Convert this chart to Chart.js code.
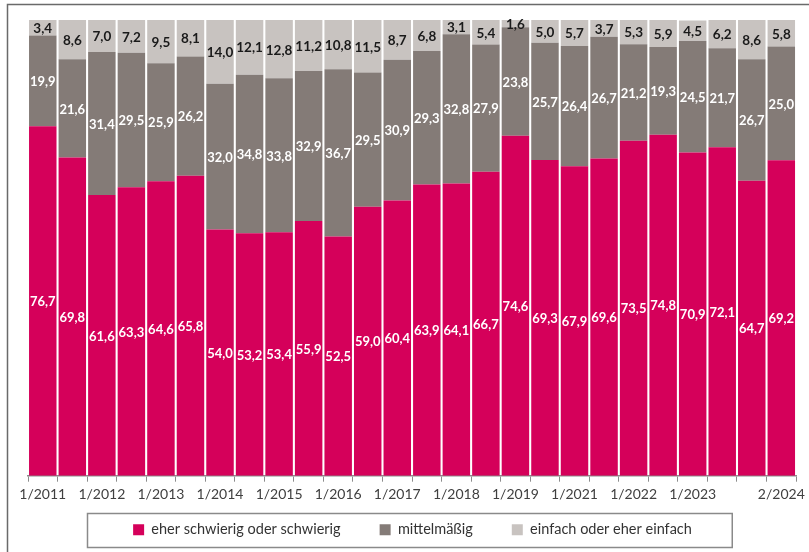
<!DOCTYPE html>
<html>
<head>
<meta charset="utf-8">
<script src="https://cdn.jsdelivr.net/npm/chart.js@4"></script>
<style>
  html, body { margin: 0; padding: 0; background: #fff; }
  #wrap { position: relative; width: 809px; height: 552px; }
</style>
</head>
<body>
<div id="wrap"><canvas id="balken"></canvas></div>
<script>
// Befragungszeitpunkte (Halbjahr/Jahr)
var zeitpunkte = ["1/2011", "2/2011", "1/2012", "2/2012", "1/2013", "2/2013",
    "1/2014", "2/2014", "1/2015", "2/2015", "1/2016", "2/2016",
    "1/2017", "2/2017", "1/2018", "2/2018", "1/2019", "2/2019",
    "1/2021", "2/2021", "1/2022", "2/2022", "1/2023", "2/2023",
    "1/2024", "2/2024"];

// Beschriftete Zeitpunkte auf der x-Achse
var achsenBeschriftung = ["1/2011", "1/2012", "1/2013", "1/2014", "1/2015", "1/2016",
    "1/2017", "1/2018", "1/2019", "1/2021", "1/2022", "1/2023", "2/2024"];

var schwierig = [76.7, 69.8, 61.6, 63.3, 64.6, 65.8, 54.0, 53.2, 53.4, 55.9, 52.5, 59.0, 60.4,
    63.9, 64.1, 66.7, 74.6, 69.3, 67.9, 69.6, 73.5, 74.8, 70.9, 72.1, 64.7, 69.2];
var mittel = [19.9, 21.6, 31.4, 29.5, 25.9, 26.2, 32.0, 34.8, 33.8, 32.9, 36.7, 29.5, 30.9,
    29.3, 32.8, 27.9, 23.8, 25.7, 26.4, 26.7, 21.2, 19.3, 24.5, 21.7, 26.7, 25.0];
var einfach = [3.4, 8.6, 7.0, 7.2, 9.5, 8.1, 14.0, 12.1, 12.8, 11.2, 10.8, 11.5, 8.7,
    6.8, 3.1, 5.4, 1.6, 5.0, 5.7, 3.7, 5.3, 5.9, 4.5, 6.2, 8.6, 5.8];

var serien = ["eher schwierig oder schwierig", "mittelmäßig", "einfach oder eher einfach"];
var farben = ["#D5005A", "#847B77", "#C8C3C0"];
var schriftFarben = ["#ffffff", "#ffffff", "#1a1a1a"];

var schrift = "Lato, 'Open Sans', sans-serif";

// Rahmen um die ganze Grafik
var rahmen = {
    id: "rahmen",
    afterDraw: function (chart) {
        var ctx = chart.ctx;
        ctx.save();
        ctx.strokeStyle = "#6a6a6a";
        ctx.lineWidth = 1.5;
        ctx.strokeRect(7.5, 4.5, 900, 700);
        ctx.restore();
    }
};

// Werte in die Balkensegmente schreiben
var werte = {
    id: "werte",
    afterDatasetsDraw: function (chart) {
        var ctx = chart.ctx;
        ctx.save();
        ctx.textAlign = "center";
        ctx.textBaseline = "middle";
        chart.data.datasets.forEach(function (ds, i) {
            var meta = chart.getDatasetMeta(i);
            ctx.fillStyle = schriftFarben[i];
            ctx.font = "bold " + (i === 2 ? 13.5 : 13) + "px " + schrift;
            meta.data.forEach(function (bar, j) {
                var p = bar.getProps(["x", "y", "base"], true);
                var txt = ds.data[j].toFixed(1).replace(".", ",");
                ctx.fillText(txt, p.x, (p.y + p.base) / 2 + 1);
            });
        });
        ctx.restore();
    }
};

// Kasten um die Legende
var legendenKasten = {
    id: "legendenKasten",
    afterDraw: function (chart) {
        var boxes = chart.legend.legendHitBoxes;
        if (!boxes || !boxes.length) return;
        var links = boxes[0].left, rechts = boxes[boxes.length - 1].left + boxes[boxes.length - 1].width;
        var mitte = boxes[0].top + boxes[0].height / 2;
        var ctx = chart.ctx;
        ctx.save();
        ctx.strokeStyle = "#8a8a8a";
        ctx.lineWidth = 1.5;
        ctx.strokeRect(Math.round(links - 46) + 0.5, Math.round(mitte - 17) + 0.5, rechts - links + 86, 34);
        ctx.restore();
    }
};

function ladeGrafik() {
    var datensaetze = [schwierig, mittel, einfach].map(function (reihe, i) {
        return {
            label: serien[i],
            data: reihe,
            backgroundColor: farben[i],
            borderWidth: 0,
            barPercentage: 0.93,
            categoryPercentage: 1.0
        };
    });

    var config = {
        type: "bar",
        data: { labels: zeitpunkte, datasets: datensaetze },
        plugins: [rahmen, werte, legendenKasten],
        options: {
            responsive: false,
            animation: false,
            layout: { padding: { left: 28, right: 12, top: 20, bottom: 5 } },
            scales: {
                x: {
                    stacked: true,
                    offset: true,
                    grid: { display: true, drawOnChartArea: false, drawTicks: true, tickLength: 6, color: "#8c8c8c", offset: true },
                    border: { display: true, color: "#8c8c8c", width: 1.5 },
                    ticks: {
                        autoSkip: false,
                        maxRotation: 0,
                        padding: 4,
                        color: "#404040",
                        font: { family: schrift, size: 14 },
                        callback: function (v, i) {
                            var l = zeitpunkte[i];
                            return achsenBeschriftung.indexOf(l) >= 0 ? l : "";
                        }
                    },
                    afterFit: function (scale) { scale.height += 6; }
                },
                y: { stacked: true, display: false, min: 0, max: 100 }
            },
            plugins: {
                tooltip: { enabled: false },
                legend: {
                    position: "bottom",
                    labels: {
                        boxWidth: 11,
                        boxHeight: 11,
                        padding: 10,
                        color: "#333333",
                        font: { family: schrift, size: 14.5 },
                        generateLabels: function (chart) {
                            var items = Chart.defaults.plugins.legend.labels.generateLabels(chart);
                            items.forEach(function (it, k) {
                                if (k < items.length - 1) it.text = it.text + "\u2002\u2002\u2002\u2002";
                            });
                            return items;
                        }
                    }
                }
            }
        }
    };

    var c = document.getElementById("balken");
    c.width = 809;
    c.height = 552;
    new Chart(c.getContext("2d"), config);
}

ladeGrafik();
</script>
</body>
</html>
